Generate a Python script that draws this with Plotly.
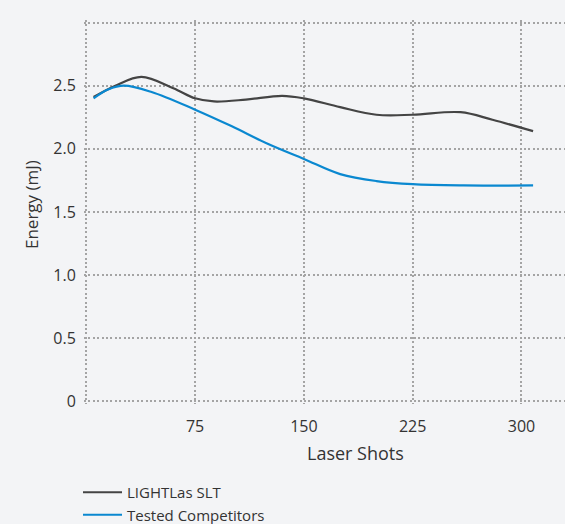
import plotly.graph_objects as go

# Data
slt_shots = [5, 20, 38, 60, 75, 88, 110, 135, 150, 175, 200, 225, 258, 280, 308]
slt_energy = [2.41, 2.50, 2.57, 2.48, 2.40, 2.375, 2.39, 2.42, 2.40, 2.33, 2.27, 2.27, 2.29, 2.23, 2.14]

comp_shots = [5, 15, 26, 45, 75, 100, 125, 150, 175, 200, 225, 260, 308]
comp_energy = [2.40, 2.47, 2.50, 2.45, 2.31, 2.18, 2.04, 1.92, 1.80, 1.745, 1.72, 1.71, 1.71]

x_ticks = [0, 75, 150, 225, 300]
x_ticktext = ["", "75", "150", "225", "300"]
y_ticks = [0, 0.5, 1.0, 1.5, 2.0, 2.5, 3.0]
y_ticktext = ["0", "0.5", "1.0", "1.5", "2.0", "2.5", ""]

FONT = "Open Sans"
TXT = "#333333"
GRID = "#a4a4a4"
BG = "#f3f4f6"

W, H = 565, 524
ML, MR, MT, MB = 84, 0, 20, 120

fig = go.Figure()
fig.add_trace(go.Scatter(x=slt_shots, y=slt_energy, mode="lines", name="LIGHTLas SLT",
                         line=dict(color="#444444", width=2.2, shape="spline", smoothing=1.0),
                         legendgroup="a"))
fig.add_trace(go.Scatter(x=comp_shots, y=comp_energy, mode="lines", name="Tested Competitors",
                         line=dict(color="#0a88d0", width=2.2, shape="spline", smoothing=1.0),
                         legendgroup="b"))

pw = W - ML - MR
ph = H - MT - MB

fig.update_layout(
    width=W, height=H,
    margin=dict(l=ML, r=MR, t=MT, b=MB, autoexpand=False),
    paper_bgcolor=BG, plot_bgcolor=BG,
    font=dict(family=FONT, color=TXT, size=14),
    showlegend=True,
    legend=dict(xref="container", yref="container",
                x=(83 - 5) / W, y=1 - 476 / H, xanchor="left", yanchor="top",
                bgcolor="rgba(0,0,0,0)", font=dict(size=15, color=TXT),
                itemwidth=39, tracegroupgap=0, traceorder="grouped"),
    xaxis=dict(range=[-1.6, 330], tickvals=x_ticks, ticktext=x_ticktext,
               showgrid=True, gridcolor=GRID, gridwidth=1.8, griddash="2px,2.4px",
               zeroline=False, showline=False,
               ticks="outside", ticklen=8, tickcolor="rgba(0,0,0,0)",
               tickfont=dict(size=16)),
    yaxis=dict(range=[-0.02, 3.02], tickvals=y_ticks, ticktext=y_ticktext,
               showgrid=True, gridcolor=GRID, gridwidth=1.8, griddash="2px,2.4px",
               zeroline=False, showline=False,
               ticks="outside", ticklen=4, tickcolor="rgba(0,0,0,0)",
               tickfont=dict(size=16)),
    annotations=[
        dict(text="Laser Shots", xref="paper", yref="paper",
             x=(355.5 - ML) / pw, y=(H - MB - 453) / ph, xanchor="center", yanchor="middle",
             showarrow=False, font=dict(size=18, color=TXT)),
        dict(text="Energy (mJ)", xref="paper", yref="paper", textangle=-90,
             x=(31 - ML) / pw, y=(H - MB - 205) / ph, xanchor="center", yanchor="middle",
             showarrow=False, font=dict(size=17, color=TXT)),
    ],
)

fig.write_html("out.html", config={"displayModeBar": False},
               post_script="document.body.style.margin='0';document.body.style.background='#f3f4f6';")
